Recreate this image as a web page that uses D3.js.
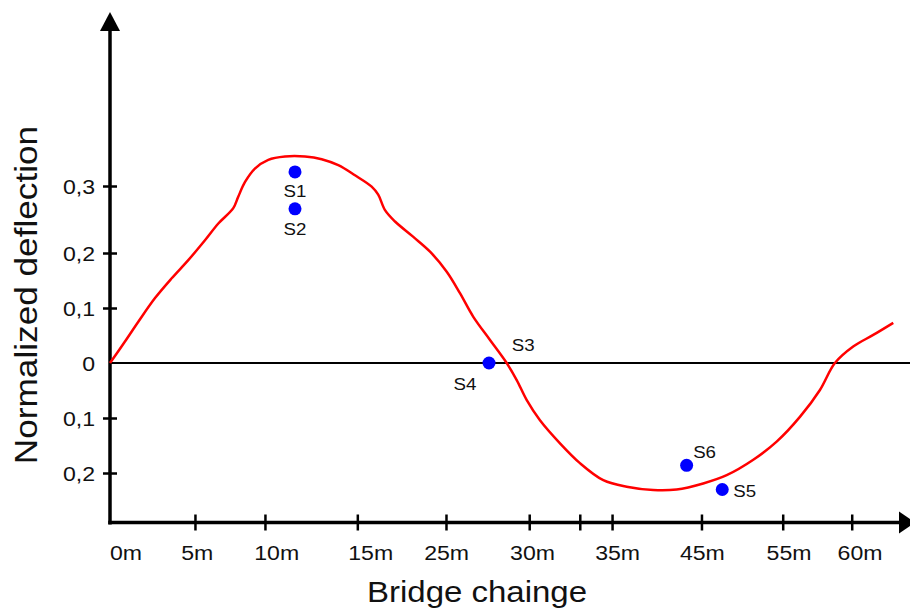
<!DOCTYPE html>
<html><head><meta charset="utf-8">
<script src="https://cdn.jsdelivr.net/npm/d3@7"></script>
<style>
html,body{margin:0;padding:0;background:#fff;}
svg{display:block;}
text{font-family:"Liberation Sans",Arial,sans-serif;fill:#111;}
</style></head>
<body>
<svg id="chart" width="910" height="608"></svg>
<script>
// ---- data ----
const curveX = [0, 1.21, 2.29, 3.64, 4.99, 6.33, 7.68, 8.76, 9.97, 10.37, 10.92, 11.72, 12.80, 14.15, 15.77, 17.12, 18.46, 19.81, 21.16, 21.69, 22.24, 23.05, 24.53, 25.88, 27.23, 28.30, 29.38, 30.73, 32.08, 32.89, 33.69, 34.77, 36.39, 38.00, 39.89, 41.78, 43.93, 45.82, 47.97, 49.87, 52.02, 53.91, 55.79, 57.41, 58.62, 60.10, 61.72, 63.34];
const curveY = [0, 0.039, 0.075, 0.118, 0.154, 0.187, 0.219, 0.244, 0.267, 0.284, 0.306, 0.326, 0.339, 0.344, 0.344, 0.340, 0.331, 0.316, 0.299, 0.287, 0.264, 0.247, 0.224, 0.202, 0.166, 0.127, 0.084, 0.042, 0.0, -0.031, -0.067, -0.104, -0.146, -0.182, -0.213, -0.225, -0.231, -0.230, -0.219, -0.204, -0.176, -0.143, -0.098, -0.049, 0.0, 0.030, 0.051, 0.073];

const sensorNames = ["S1", "S2", "S3", "S4", "S5", "S6"];
const sensorX = [14.96, 14.96, 32.08, 30.65, 49.51, 46.63];
const sensorY = [0.321, 0.266, 0, 0, -0.230, -0.186];
const sensorMarked = [true, true, false, true, true, true];

const xTickValues = [6.87, 12.53, 20.00, 27.17, 33.90, 37.99, 40.60, 47.83, 54.40, 59.98];
const xLabelValues = [1.29, 7.06, 13.48, 21.08, 27.22, 34.17, 41.05, 47.90, 54.91, 60.65];
const xLabelTexts = ["0m", "5m", "10m", "15m", "25m", "30m", "35m", "45m", "55m", "60m"];

const yTickValues = [0.3, 0.2, 0.1, 0, -0.1, -0.2];
const yTickLabels = ["0,3", "0,2", "0,1", "0", "0,1", "0,2"];

const xTitle = "Bridge chainge";
const yTitle = "Normalized deflection";

// ---- layout ----
const labelOffsets = {
  S1: {dx: 0, dy: 25, anchor: "middle"},
  S2: {dx: 0, dy: 26.5, anchor: "middle"},
  S3: {dx: 5, dy: -12.5, anchor: "start"},
  S4: {dx: -24, dy: 27, anchor: "middle"},
  S5: {dx: 11, dy: 7.5, anchor: "start"},
  S6: {dx: 6.5, dy: -7, anchor: "start"}
};
const SX = 1.1; // horizontal text stretch

const svg = d3.select("#chart");
const x = d3.scaleLinear().domain([0, 64.2]).range([110, 903.9]);
const y = d3.scaleLinear().domain([-0.2, 0.2, 0.3]).range([473, 253, 186]);

const axisX0 = 110, axisY0 = 522.5;

function txt(px, py, s, size, anchor, rotate) {
  const t = svg.append("text")
    .attr("transform", `translate(${px},${py})` + (rotate ? ` rotate(${rotate})` : "") + ` scale(${SX},1)`)
    .attr("text-anchor", anchor)
    .style("font-size", size + "px")
    .text(s);
  return t;
}

// zero line
svg.append("line")
  .attr("x1", axisX0).attr("x2", 910)
  .attr("y1", y(0)).attr("y2", y(0))
  .attr("stroke", "#000").attr("stroke-width", 2);

// y axis line + arrow
svg.append("line")
  .attr("x1", axisX0).attr("x2", axisX0)
  .attr("y1", 28).attr("y2", axisY0 + 2)
  .attr("stroke", "#000").attr("stroke-width", 3.5);
svg.append("path")
  .attr("d", `M${axisX0},12 L${axisX0 - 10},31 L${axisX0 + 10},31 Z`)
  .attr("fill", "#000");

// x axis line + arrow
svg.append("line")
  .attr("x1", axisX0 - 1.75).attr("x2", 902)
  .attr("y1", axisY0).attr("y2", axisY0)
  .attr("stroke", "#000").attr("stroke-width", 3.5);
svg.append("path")
  .attr("d", `M915,${axisY0} L899,${axisY0 - 11} L899,${axisY0 + 11} Z`)
  .attr("fill", "#000");

// x ticks via d3 axis
const gx = svg.append("g").attr("transform", `translate(0,${axisY0})`)
  .call(d3.axisBottom(x).tickValues(xTickValues).tickFormat("").tickSizeOuter(0));
gx.select(".domain").remove();
gx.selectAll(".tick line").attr("y1", -8).attr("y2", 8)
  .attr("stroke", "#000").attr("stroke-width", 2.5);

// y ticks via d3 axis
const gy = svg.append("g").attr("transform", `translate(${axisX0},0)`)
  .call(d3.axisLeft(y).tickValues(yTickValues.filter(v => v !== 0)).tickFormat("").tickSizeOuter(0));
gy.select(".domain").remove();
gy.selectAll(".tick line").attr("x1", -7).attr("x2", 7)
  .attr("stroke", "#000").attr("stroke-width", 2.5);

// x labels
xLabelValues.forEach((v, i) => txt(x(v), 560, xLabelTexts[i], 21, "middle"));
// y labels
yTickValues.forEach((v, i) => txt(95, y(v) + 7.5, yTickLabels[i], 21, "end"));

// titles
txt(477, 601.5, xTitle, 30, "middle");
txt(37, 295, yTitle, 32, "middle", -90);

// curve
const pts = curveX.map((v, i) => [v, curveY[i]]);
svg.append("path")
  .datum(pts)
  .attr("d", d3.line().x(d => x(d[0])).y(d => y(d[1])).curve(d3.curveCatmullRom.alpha(0.5)))
  .attr("fill", "none").attr("stroke", "#ff0000").attr("stroke-width", 2.5)
  .attr("stroke-linejoin", "round");

// sensors
sensorNames.forEach((n, i) => {
  const cx = x(sensorX[i]), cy = y(sensorY[i]);
  if (sensorMarked[i]) {
    svg.append("circle").attr("cx", cx).attr("cy", cy).attr("r", 6.5).attr("fill", "#0000ff");
  }
  const o = labelOffsets[n];
  txt(cx + o.dx, cy + o.dy, n, 17, o.anchor);
});
</script>
</body></html>
